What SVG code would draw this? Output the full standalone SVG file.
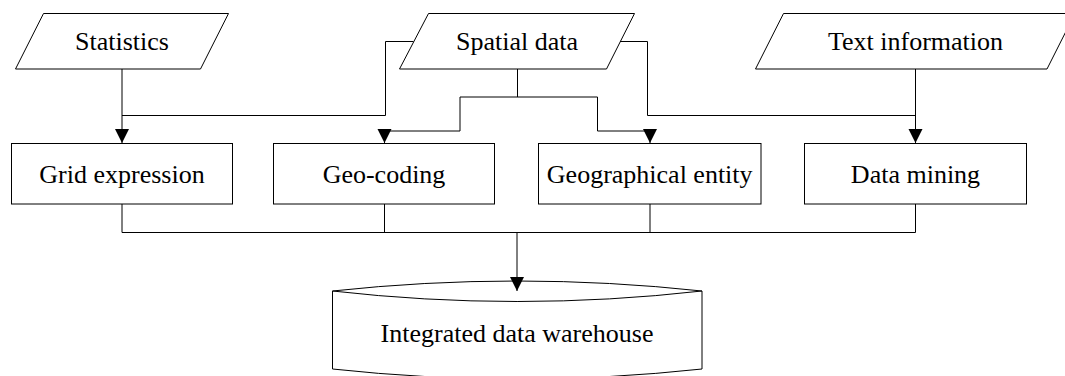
<svg xmlns="http://www.w3.org/2000/svg" width="1065" height="376" viewBox="0 0 1065 376">
  <defs>
    <marker id="arrow" markerWidth="14" markerHeight="15" refX="14" refY="7" orient="auto" markerUnits="userSpaceOnUse">
      <path d="M0,0 L14,7 L0,14 Z" fill="#000"/>
    </marker>
    <style>
      .shape { fill: #fff; stroke: #000; stroke-width: 1; }
      .wire { fill: none; stroke: #000; stroke-width: 1; }
      .label { font-family: "Liberation Serif", "Times New Roman", serif; font-size: 26px; fill: #000; text-anchor: middle; }
    </style>
  </defs>

  <rect width="1065" height="376" fill="#fff"/>

  <!-- input sources -->
  <g id="statistics">
    <polygon class="shape" points="43.5,13.5 228.5,13.5 200.5,69 15.5,69"/>
    <text class="label" x="122" y="49.5">Statistics</text>
  </g>
  <g id="spatial-data">
    <polygon class="shape" points="428.5,13.5 634.5,13.5 606.5,69 399.5,69"/>
    <text class="label" x="517" y="49.5">Spatial data</text>
  </g>
  <g id="text-information">
    <polygon class="shape" points="783.5,13.5 1075,13.5 1047,69 755.5,69"/>
    <text class="label" x="915.5" y="49.5">Text information</text>
  </g>

  <!-- processing steps -->
  <g id="grid-expression">
    <rect class="shape" x="11.5" y="143.5" width="221" height="60.5"/>
    <text class="label" x="122" y="182.5">Grid expression</text>
  </g>
  <g id="geo-coding">
    <rect class="shape" x="273.5" y="143.5" width="221" height="60.5"/>
    <text class="label" x="384" y="182.5">Geo-coding</text>
  </g>
  <g id="geographical-entity">
    <rect class="shape" x="538.5" y="143.5" width="222.5" height="60.5"/>
    <text class="label" x="649.7" y="182.5">Geographical entity</text>
  </g>
  <g id="data-mining">
    <rect class="shape" x="804.5" y="143.5" width="222" height="60.5"/>
    <text class="label" x="915.5" y="182.5">Data mining</text>
  </g>

  <!-- storage -->
  <g id="data-warehouse">
    <path class="shape" d="M332.5,291 Q517,271 702,291 V369 Q517,389 332.5,369 Z"/>
    <path class="wire" d="M332.5,291 Q517,312 702,291"/>
    <text class="label" x="517" y="342">Integrated data warehouse</text>
  </g>

  <!-- connectors, drawn last so arrowheads sit on top of the shapes -->
  <g id="connectors">
    <path class="wire" d="M122,69 V143" marker-end="url(#arrow)"/>
    <path class="wire" d="M413.5,41.5 H385.5 V115.5 H122"/>
    <path class="wire" d="M517.5,69 V97 M460,97 H597.5"/>
    <path class="wire" d="M460,97 V131 H384.5 V143" marker-end="url(#arrow)"/>
    <path class="wire" d="M597.5,97 V131 H650 V143" marker-end="url(#arrow)"/>
    <path class="wire" d="M620,41.5 H647.5 V115.5 H915.5"/>
    <path class="wire" d="M915.5,69 V143" marker-end="url(#arrow)"/>
    <path class="wire" d="M122,204 V232.5 H915.5 V204 M384.5,204 V232.5 M650,204 V232.5"/>
    <path class="wire" d="M517,232.5 V291" marker-end="url(#arrow)"/>
  </g>
</svg>
